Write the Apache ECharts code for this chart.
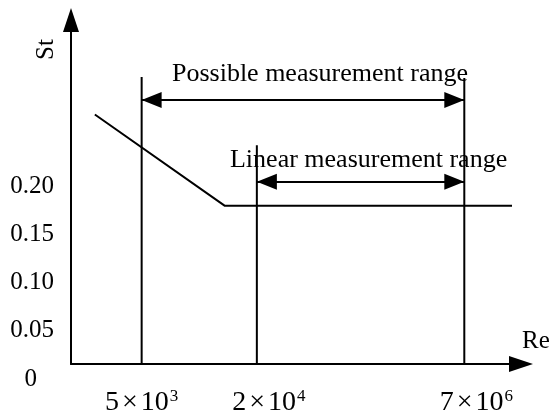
<!DOCTYPE html>
<html>
<head>
<meta charset="utf-8">
<script src="https://cdn.jsdelivr.net/npm/echarts@6/dist/echarts.min.js"></script>
<style>
html, body { margin: 0; padding: 0; background: #fff; }
#chart { width: 552px; height: 414px; }
</style>
</head>
<body>
<div id="chart"></div>
<script>
// Strouhal number St against Reynolds number Re (schematic; Re is drawn on a position scale)
const stTicks = [0, 0.05, 0.10, 0.15, 0.20];

// marked Re values and where they sit along the Re axis
const rePos = [15.7, 41.3, 87.4];
const reMantissa = [5, 2, 7];
const reExponent = [3, 4, 6];

// St(Re) curve: falling branch, then constant
const curveRe = [5.3, 34.2, 98];
const curveSt = [0.275, 0.18, 0.18];

// vertical guides at the marked Re values
const guideTopSt = [0.314, 0.243, 0.313];
const reAxisSt = 0.016;   // St level at which the Re axis line runs

// measurement ranges (double arrows between guides)
const rangeNames = ['Possible measurement range', 'Linear measurement range'];
const rangeFrom = [0, 1];
const rangeTo = [2, 2];
const rangeSt = [0.29, 0.205];

const FONT = "'Liberation Serif', 'Times New Roman', serif";
const INK = '#000';
const PX_PER_ST = 962;
const ST_MAX = 0.35;

const chart = echarts.init(document.getElementById('chart'), null, { renderer: 'canvas' });

const guideSeries = rePos.map((x, i) => ({
  type: 'line',
  xAxisIndex: 0,
  yAxisIndex: 0,
  data: [[x, reAxisSt], [x, guideTopSt[i]]],
  symbol: 'none',
  silent: true,
  lineStyle: { color: INK, width: 2 }
}));

const rangeLabelStyle = [
  { padding: [0, 0, 0, 34], distance: 13 },
  { padding: [0, 0, 0, 16], distance: 9 }
];

const rangeLines = rangeNames.map((name, i) => [
  {
    name: name,
    coord: [rePos[rangeFrom[i]], rangeSt[i]],
    label: rangeLabelStyle[i]
  },
  { coord: [rePos[rangeTo[i]], rangeSt[i]] }
]);

const frameLine = {
  show: true,
  symbol: ['none', 'triangle'],
  symbolSize: [16, 24],
  lineStyle: { color: INK, width: 2 }
};

chart.setOption({
  animation: false,
  backgroundColor: '#fff',
  textStyle: { fontFamily: FONT, color: INK },
  grid: [
    { left: 71, right: 31, bottom: 35, height: ST_MAX * PX_PER_ST, outerBoundsMode: 'none', containLabel: false },
    { left: 71, right: 31, top: 20, bottom: 50, outerBoundsMode: 'none', containLabel: false }
  ],
  xAxis: [
    {
      gridIndex: 0, type: 'value', min: 0, max: 100,
      axisLine: { show: false }, axisTick: { show: false }, splitLine: { show: false },
      axisLabel: {
        customValues: rePos,
        margin: 9,
        color: INK,
        fontFamily: FONT,
        fontSize: 28,
        formatter: function (v) {
          const i = rePos.findIndex(p => Math.abs(p - v) < 1e-6);
          if (i < 0) return '';
          const lead = i > 0 ? '{pad| }' : '';
          return lead + reMantissa[i] + '{x|×}10{sup|' + reExponent[i] + '}';
        },
        rich: {
          x: { fontSize: 28, fontFamily: FONT, color: INK, padding: [0, 3, 0, 3] },
          sup: { fontSize: 17, fontFamily: FONT, color: INK, verticalAlign: 'top', padding: [0, 0, 12, 1] },
          pad: { width: 24, fontSize: 10 }
        }
      }
    },
    {
      gridIndex: 1, type: 'value', min: 0, max: 1,
      axisLine: frameLine, axisTick: { show: false }, axisLabel: { show: false }, splitLine: { show: false },
      name: 'Re', nameLocation: 'end', nameGap: 1,
      nameTextStyle: { fontFamily: FONT, fontSize: 25, color: INK, verticalAlign: 'bottom', lineHeight: 46 }
    }
  ],
  yAxis: [
    {
      gridIndex: 0, type: 'value', min: 0, max: ST_MAX, interval: 0.05,
      axisLine: { show: false }, axisTick: { show: false }, splitLine: { show: false },
      axisLabel: {
        margin: 17,
        color: INK,
        fontFamily: FONT,
        fontSize: 25,
        formatter: function (v) {
          const t = stTicks.find(s => Math.abs(s - v) < 1e-9);
          if (t === undefined) return '';
          if (t === 0) return '{o|0}';
          return t.toFixed(2);
        },
        rich: {
          o: { fontSize: 25, fontFamily: FONT, color: INK, padding: [0, 17, 0, 0] }
        }
      }
    },
    {
      gridIndex: 1, type: 'value', min: 0, max: 1,
      axisLine: frameLine, axisTick: { show: false }, axisLabel: { show: false }, splitLine: { show: false },
      name: 'St', nameLocation: 'end', nameRotate: 90, nameGap: -40,
      nameTextStyle: { fontFamily: FONT, fontSize: 25, color: INK, verticalAlign: 'bottom', lineHeight: 50 }
    }
  ],
  series: [
    {
      type: 'line',
      xAxisIndex: 0,
      yAxisIndex: 0,
      data: curveRe.map((x, i) => [x, curveSt[i]]),
      symbol: 'none',
      silent: true,
      lineStyle: { color: INK, width: 2 },
      markLine: {
        silent: true,
        symbol: ['triangle', 'triangle'],
        symbolSize: [16, 20],
        symbolOffset: [[0, 10], [0, 10]],
        lineStyle: { color: INK, width: 2, type: 'solid' },
        itemStyle: { color: INK },
        label: {
          show: true,
          position: 'middle',
          formatter: '{b}',
          color: INK,
          fontFamily: FONT,
          fontSize: 26
        },
        emphasis: { disabled: true },
        data: rangeLines
      }
    }
  ].concat(guideSeries)
});
</script>
</body>
</html>
